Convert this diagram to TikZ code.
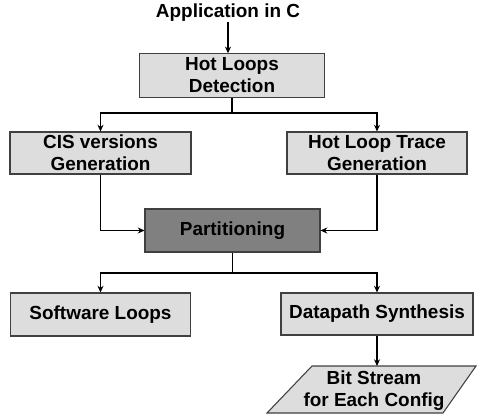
\documentclass[tikz,border=0pt]{standalone}
\usepackage{fontspec}
\setmainfont{Liberation Sans}
\usetikzlibrary{arrows.meta}
\definecolor{lightfill}{HTML}{DDDDDD}
\definecolor{darkfill}{HTML}{808080}
\definecolor{edgecol}{HTML}{404040}
\begin{document}
\begin{tikzpicture}[x=0.75pt,y=-0.75pt,
  lbl/.style={font=\fontsize{14.2pt}{16.5pt}\selectfont\bfseries, align=center, inner sep=0pt},
  procbox/.style={lbl, draw=edgecol, line width=0.8pt, fill=lightfill},
  darkbox/.style={lbl, draw=edgecol, line width=0.8pt, fill=darkfill},
  conn/.style={draw=black, line width=1pt},
  arr/.style={conn, -{Stealth[length=5pt,width=4.5pt]}}]
\useasboundingbox (0,0) rectangle (478,416);
\node[lbl] (title) at (228,13) {Application in C};
\node[procbox, minimum width=139pt, minimum height=32.5pt] (hld) at (232,75.5) {Hot Loops\\Detection};
\node[procbox, minimum width=135.75pt, minimum height=31.5pt] (cis) at (100.5,153) {CIS versions\\Generation};
\node[procbox, minimum width=135pt, minimum height=31.5pt] (hlt) at (377,153) {Hot Loop Trace\\Generation};
\node[darkbox, minimum width=131.25pt, minimum height=32.25pt] (part) at (232.5,230.5) {Partitioning};
\node[procbox, minimum width=135pt, minimum height=32.25pt] (sw) at (100.5,314.5) {Software Loops};
\node[procbox, minimum width=144pt, minimum height=31.5pt] (dp) at (377,314) {Datapath Synthesis};
\draw[draw=edgecol, line width=0.8pt, fill=lightfill] (312,366) -- (476,366) -- (443,413) -- (267,413) -- cycle;
\node[lbl] (bs) at (374,391) {Bit Stream\\for Each Config};
\coordinate (bstop) at (377,366);
\coordinate (split1) at (232,113);
\coordinate (split2) at (232.5,273);
\draw[arr] (title.south) -- (title.south |- hld.north);
\draw[conn] (hld.south) -- (split1);
\draw[arr] (split1) -| (cis.north);
\draw[arr] (split1) -| (hlt.north);
\draw[arr] (cis.south) |- (part.west);
\draw[arr] (hlt.south) |- (part.east);
\draw[conn] (part.south) -- (split2);
\draw[arr] (split2) -| (sw.north);
\draw[arr] (split2) -| (dp.north);
\draw[arr] (dp.south) -- (bstop);
\end{tikzpicture}
\end{document}
